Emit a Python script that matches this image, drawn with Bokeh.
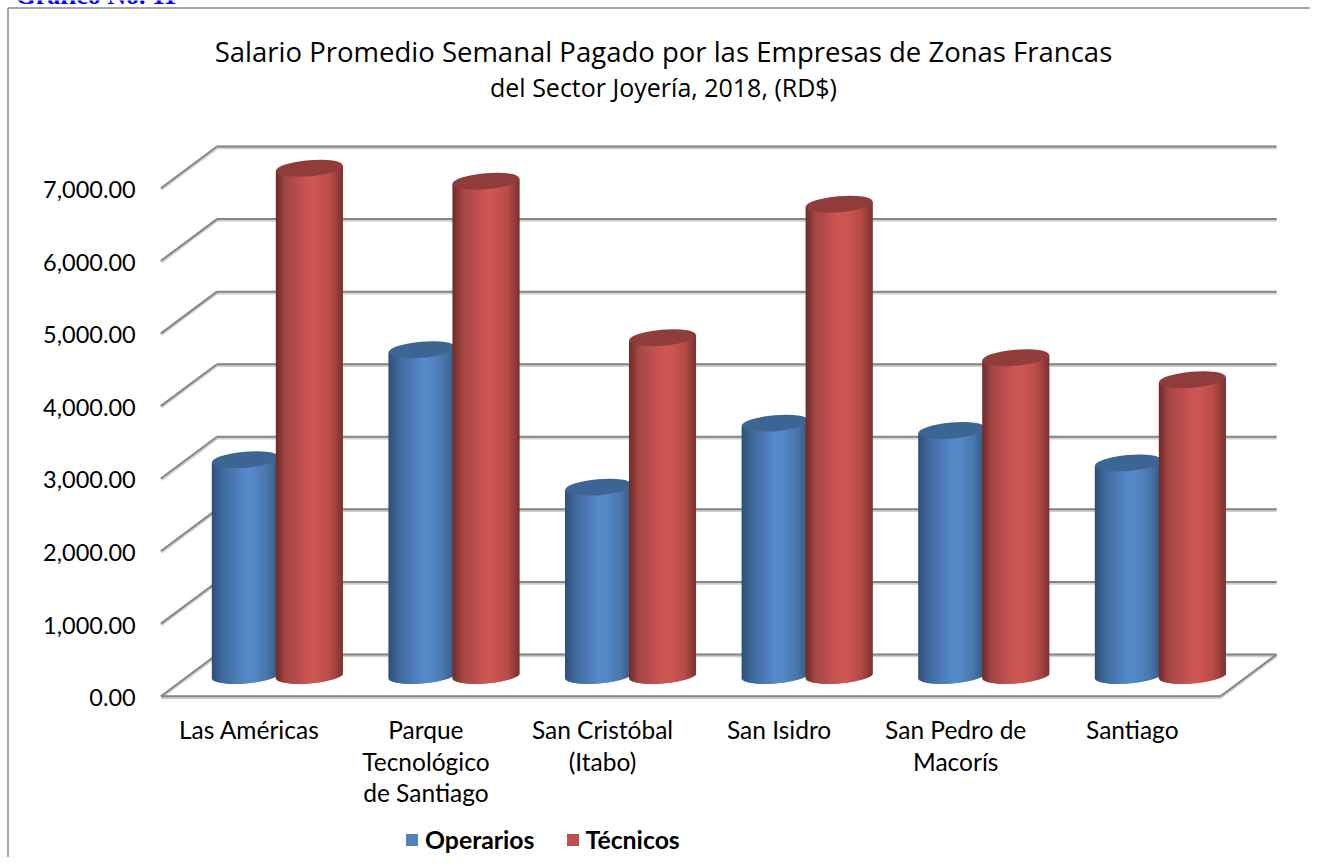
import numpy as np
from bokeh.embed import file_html
from bokeh.resources import INLINE
from bokeh.plotting import figure
from bokeh.models import (Range1d, LinearAxis, FixedTicker, NumeralTickFormatter, Label, Legend, LegendItem)

categories = ["Las Américas", "Parque\nTecnológico\nde Santiago", "San Cristóbal\n(Itabo)",
              "San Isidro", "San Pedro de\nMacorís", "Santiago"]
operarios = [2972, 4487, 2593, 3475, 3374, 2926]
tecnicos = [6988, 6809, 4653, 6492, 4377, 4074]
y_ticks = [0, 1000, 2000, 3000, 4000, 5000, 6000, 7000]
title_main = "Salario Promedio Semanal Pagado por las Empresas de Zonas Francas"
title_sub = "del Sector Joyería, 2018, (RD$)"
caption = "Gráfico No. 11"

W, H = 1310, 857
X0, CAT = 160.5, 176.6      # front-left corner, px per category
Y0, VAL = 695.7, 0.07257    # front floor line, px per unit
DX, DY = 56.0, 41.7         # depth shift in px

x_start, x_end = -X0 / CAT, (W - X0) / CAT
y_start, y_end = (Y0 - H) / VAL, Y0 / VAL
dc, dv = DX / CAT, DY / VAL

p = figure(width=W, height=H, output_backend="svg", toolbar_location=None,
           x_range=Range1d(x_start, x_end), y_range=Range1d(y_start, y_end),
           min_border=0, outline_line_color=None, background_fill_color="white",
           x_axis_location=None, y_axis_location=None)
p.grid.visible = False
px = lambda x: (x - X0) / CAT
py = lambda y: (Y0 - y) / VAL

# chart frame
p.segment([px(7.5), px(7.5)], [py(7.5), py(7.5)], [px(1318), px(7.5)], [py(7.5), py(865)],
          line_color="#8a8a8a", line_width=1.5)

# walls: shadow then line
ticks = np.array(y_ticks, float)
for col, lw, off in (("#d0d0d0", 3.5, 1.0), ("#868686", 2.0, 0.0)):
    dy = off / VAL
    p.segment(np.full_like(ticks, dc), ticks + dv - dy, np.full_like(ticks, 6 + dc), ticks + dv - dy,
              line_color=col, line_width=lw)
    p.segment(np.zeros_like(ticks), ticks - dy, np.full_like(ticks, dc), ticks + dv - dy,
              line_color=col, line_width=lw)
    p.segment([6], [-dy], [6 + dc], [dv - dy], line_color=col, line_width=lw)
    p.segment([0], [-dy], [6], [-dy], line_color=col, line_width=lw)

# cylinders
R = 33.5
STEP = 1.0
TILT = 0.085
EH = 8.0
SHIFT = -1.5               # px, pair boundary relative to the mid-depth category centre
offs = np.arange(-R, R, STEP)
T = (offs + STEP / 2 + R) / (2 * R)
STOPS = [0, 0.15, 0.5, 0.6, 0.82, 1]

def ramp(colors):
    c = np.array([[int(k[i:i + 2], 16) for i in (1, 3, 5)] for k in colors], float)
    return ["#%02x%02x%02x" % tuple(int(round(np.interp(t, STOPS, c[:, j]))) for j in range(3)) for t in T]

blue_cols = ramp(["#2c5079", "#40699c", "#5589ca", "#5589ca", "#4a78ad", "#31577f"])
red_cols = ramp(["#6f2c2a", "#a44744", "#cd5653", "#cd5653", "#b84c49", "#7b3331"])

def cylinder(vals, shift, cols, cap):
    for i, v in enumerate(vals):
        cx = i + 0.5 + dc / 2 + (SHIFT + shift) / CAT
        base = dv / 2
        d = offs + STEP / 2
        ell = EH * np.sqrt(np.clip(1 - (d / R) ** 2, 0, 1))
        lefts = cx + offs / CAT
        rights = cx + np.minimum(offs + STEP + 1.5, R) / CAT
        tops = v + base + TILT * d / VAL
        bots = base + TILT * d / VAL - ell / VAL
        p.quad(left=lefts, right=rights, top=tops, bottom=bots, fill_color=cols, line_color=None)
        p.ellipse(x=[cx], y=[v + base], width=2 * R, height=2 * EH, width_units="screen", height_units="screen",
                  angle=TILT, fill_color=cap, line_color=None)

cylinder(operarios, -30.5, blue_cols, "#3d6593")
cylinder(tecnicos, 33.5, red_cols, "#8f3c3a")

# axes
font = "Lato"
p.extra_y_ranges = {"labels": Range1d(y_start + 1.5 / VAL, y_end + 1.5 / VAL)}
yax = LinearAxis(fixed_location=-0.03, y_range_name="labels", ticker=FixedTicker(ticks=y_ticks),
                 formatter=NumeralTickFormatter(format="0,0.00"))
yax.axis_line_color = None
yax.major_tick_line_color = None
yax.minor_tick_line_color = None
yax.major_label_text_font = font
yax.major_label_text_font_size = "23.5px"
yax.major_label_text_color = "black"
yax.major_label_standoff = 14
p.add_layout(yax, "left")

xax = LinearAxis(fixed_location=0, ticker=FixedTicker(ticks=[i + 0.5 for i in range(6)]),
                 major_label_overrides={i + 0.5: c for i, c in enumerate(categories)})
xax.axis_line_color = None
xax.major_tick_line_color = None
xax.minor_tick_line_color = None
xax.major_label_text_font = font
xax.major_label_text_font_size = "24.5px"
xax.major_label_text_color = "black"
xax.major_label_text_line_height = 1.08
xax.major_label_standoff = 13
p.add_layout(xax, "below")

# texts (screen y counted from the figure's bottom)
for txt, x, y, size, f, col, style, align, base in (
    (title_main, 663, H - 51, "27.5px", "Open Sans", "black", "normal", "center", "middle"),
    (title_sub, 663, H - 86, "25px", "Open Sans", "black", "normal", "center", "middle"),
    (caption, 15, H + 5, "26px", "Liberation Serif", "#0000ff", "bold", "left", "alphabetic"),
):
    p.add_layout(Label(x=x, y=y, x_units="screen", y_units="screen", text=txt, text_font=f,
                       text_font_size=size, text_color=col, text_font_style=style,
                       text_align=align, text_baseline=base))

# legend
r1 = p.quad(left=[np.nan], right=[np.nan], top=[np.nan], bottom=[np.nan], fill_color="#4f81bd", line_color=None)
r2 = p.quad(left=[np.nan], right=[np.nan], top=[np.nan], bottom=[np.nan], fill_color="#c0504d", line_color=None)
leg = Legend(items=[LegendItem(label="Operarios", renderers=[r1]), LegendItem(label="Técnicos", renderers=[r2])],
             orientation="horizontal", location=(404, 3), background_fill_alpha=0, border_line_color=None,
             glyph_width=15, glyph_height=15, label_text_font=font, label_text_font_style="bold",
             label_text_font_size="24.8px", label_text_color="black", spacing=30, label_standoff=6,
             padding=8, margin=0)
p.add_layout(leg, "center")

open("out.html", "w").write(file_html(p, INLINE))
